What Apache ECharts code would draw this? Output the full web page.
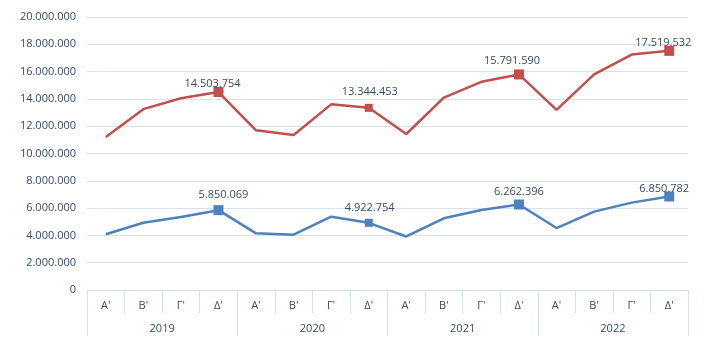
<!DOCTYPE html>
<html><head><meta charset="utf-8">
<script src="https://cdn.jsdelivr.net/npm/echarts@6/dist/echarts.min.js"></script>
<style>html,body{margin:0;padding:0;background:#fff}#c{width:726px;height:364px}</style>
</head><body><div id="c"></div>
<script>
const quarters = ["A'","B'","Γ'","Δ'","A'","B'","Γ'","Δ'","A'","B'","Γ'","Δ'","A'","B'","Γ'","Δ'"];
const years = ["2019","2020","2021","2022"];
const redValues = [11200000,13250000,14050000,14503754,11700000,11350000,13600000,13344453,11430000,14100000,15250000,15791590,13190000,15800000,17250000,17519532];
const blueValues = [4080000,4930000,5350000,5850069,4150000,4050000,5370000,4922754,3920000,5250000,5860000,6262396,4540000,5740000,6400000,6850782];
const labelled = [3,7,11,15];
const yTicks = {min:0, max:20000000, interval:2000000};

// label placement (style only)
const redLabelOffsets = {3:[-6,2], 7:[1,-6], 11:[-7,-3], 15:[-6,3]};
const blueLabelOffsets = {3:[5,-5], 7:[1,-5], 11:[0,-2], 15:[-5,3]};

const textColor = '#3A4A66';
const font = 'Open Sans';
function fmt(v){return String(Math.round(v)).replace(/\B(?=(\d{3})+(?!\d))/g,'.');}
function mkData(vals, color, offs){
  return vals.map((v,i)=>{
    if(labelled.indexOf(i)>=0){
      return {value:v, symbol:'rect', symbolSize: i===7?8:10,
        itemStyle:{color:color},
        label:{show:true, position:'top', distance:0, offset:offs[i], formatter:fmt(v), color:textColor, fontSize:11, fontFamily:font}};
    }
    return {value:v, symbol:'none'};
  });
}
const chart = echarts.init(document.getElementById('c'));
chart.setOption({
  animation:false,
  grid:{left:87, right:38, top:17, bottom:74},
  xAxis:[
    {type:'category', data:quarters, position:'bottom', boundaryGap:true,
     axisLine:{show:true, lineStyle:{color:'#D9E1EA'}},
     axisTick:{show:true, interval:0, length:23, lineStyle:{color:'#D9E1EA'}},
     axisLabel:{interval:0, margin:10, color:textColor, fontSize:11, fontFamily:font}},
    {type:'category', data:years, position:'bottom', boundaryGap:true, offset:0,
     axisLine:{show:false},
     axisTick:{show:true, interval:0, length:46, lineStyle:{color:'#D9E1EA'}},
     axisLabel:{interval:0, margin:33, color:textColor, fontSize:11, fontFamily:font}}
  ],
  yAxis:{type:'value', min:yTicks.min, max:yTicks.max, interval:yTicks.interval,
    axisLine:{show:false}, axisTick:{show:false},
    splitLine:{lineStyle:{color:'#D9E1EA', width:1}},
    axisLabel:{margin:11, color:textColor, fontSize:11, fontFamily:font, formatter:v=>fmt(v)}},
  series:[
    {type:'line', data:mkData(redValues,'#C0504D',redLabelOffsets), lineStyle:{color:'#C0504D', width:2.5}, itemStyle:{color:'#C0504D'}, showSymbol:true},
    {type:'line', data:mkData(blueValues,'#4F81BD',blueLabelOffsets), lineStyle:{color:'#4F81BD', width:2.5}, itemStyle:{color:'#4F81BD'}, showSymbol:true}
  ]
});
</script></body></html>
